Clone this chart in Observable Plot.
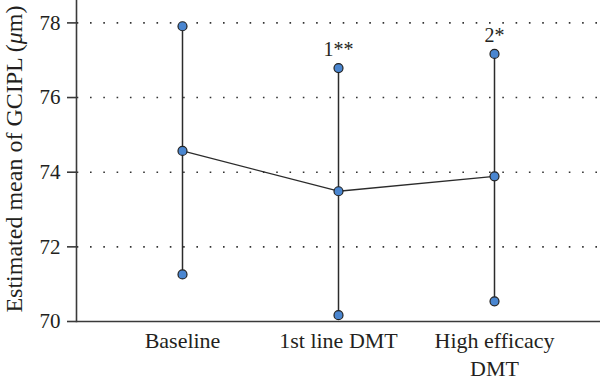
<!DOCTYPE html>
<html>
<head>
<meta charset="utf-8">
<script src="https://cdn.jsdelivr.net/npm/d3@7"></script>
<script src="https://cdn.jsdelivr.net/npm/@observablehq/plot@0.6"></script>
<style>
  html, body { margin: 0; padding: 0; background: #fff; }
</style>
</head>
<body>
<div id="chart"></div>
<script>
const categories = ["Baseline", "1st line DMT", "High efficacy\nDMT"];
const means = [74.57, 73.49, 73.89];
const lowers = [71.26, 70.17, 70.54];
const uppers = [77.91, 76.79, 77.17];
const annotations = ["", "1**", "2*"];
const yTicks = [70, 72, 74, 76, 78];
const yLabel = "Estimated mean of GCIPL (μm)";

const data = categories.map((c, i) => ({cat: c, mean: means[i], lo: lowers[i], hi: uppers[i], note: annotations[i]}));
const pts = data.flatMap(d => [{cat: d.cat, v: d.hi}, {cat: d.cat, v: d.mean}, {cat: d.cat, v: d.lo}]);

const ink = "#2b2b2b";
const plot = Plot.plot({
  width: 600,
  height: 384,
  marginTop: 0,
  marginRight: 0,
  marginBottom: 63,
  marginLeft: 76,
  style: {fontFamily: "'Liberation Serif', serif", color: "#231f20", background: "#fff"},
  x: {type: "point", domain: categories, padding: 0.67},
  y: {domain: [70, 78.6]},
  marks: [
    Plot.gridY(yTicks.filter(t => t > 70), {stroke: "#333", strokeOpacity: 1, strokeWidth: 1.6, strokeDasharray: "1.6,11.7", strokeDashoffset: -0.7}),
    Plot.ruleY([70], {stroke: "#3a3a3a", strokeWidth: 1.6}),
    Plot.frame({anchor: "left", stroke: "#3a3a3a", strokeWidth: 1.6}),
    Plot.axisY({ticks: yTicks, tickSize: 9, tickPadding: 7, fontSize: 21, label: null, stroke: "#3a3a3a", strokeWidth: 1.6}),
    Plot.axisX({tickSize: 0, tickPadding: 6, fontSize: 22, lineHeight: 1.3, label: null}),
    Plot.text([yLabel], {frameAnchor: "left", dx: -62, dy: -2, rotate: -90, textAnchor: "middle", fontSize: 24, fill: "#231f20"}),
    Plot.ruleX(data, {x: "cat", y1: "lo", y2: "hi", stroke: ink, strokeWidth: 1.5}),
    Plot.line(data, {x: "cat", y: "mean", stroke: ink, strokeWidth: 1.3}),
    Plot.dot(pts, {x: "cat", y: "v", r: 4.5, fill: "#4a86d0", stroke: "#222", strokeWidth: 1.2}),
    Plot.text(data, {x: "cat", y: "hi", text: "note", dy: -12, lineAnchor: "bottom", fontSize: 20, fill: "#231f20"})
  ]
});
document.getElementById("chart").appendChild(plot);

// italicize the mu in the y label
d3.select(plot).selectAll("text").each(function() {
  const el = this;
  if (el.textContent === yLabel) {
    const parts = yLabel.split("μ");
    el.textContent = "";
    const ns = "http://www.w3.org/2000/svg";
    const t1 = document.createElementNS(ns, "tspan"); t1.textContent = parts[0];
    const t2 = document.createElementNS(ns, "tspan"); t2.textContent = "μ"; t2.setAttribute("font-style", "italic");
    const t3 = document.createElementNS(ns, "tspan"); t3.textContent = parts[1];
    el.append(t1, t2, t3);
  }
});
</script>
</body>
</html>
